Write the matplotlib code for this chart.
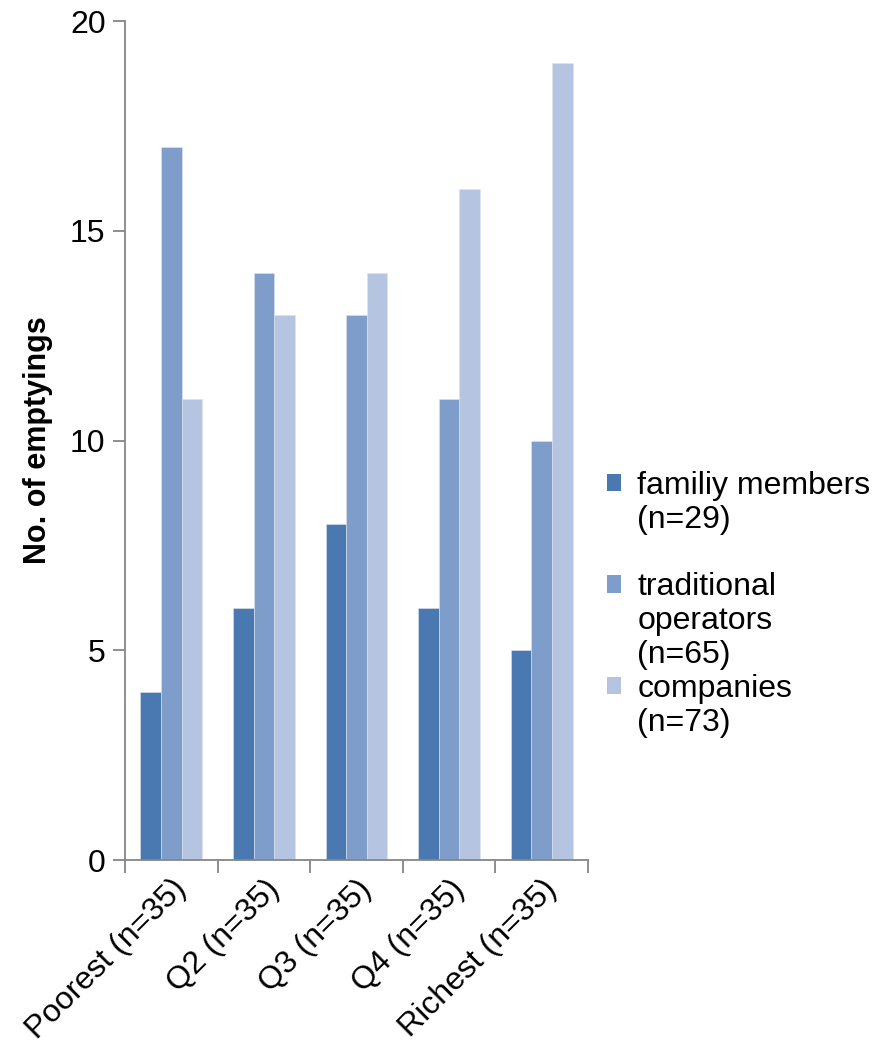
import numpy as np
import matplotlib.pyplot as plt
from matplotlib.patches import Patch

plt.rcParams['font.family'] = ['Liberation Sans', 'DejaVu Sans']

categories = ["Poorest (n=35)", "Q2 (n=35)", "Q3 (n=35)", "Q4 (n=35)", "Richest (n=35)"]
family = [4, 6, 8, 6, 5]
traditional = [17, 14, 13, 11, 10]
companies = [11, 13, 14, 16, 19]
series_labels = ["familiy members\n(n=29)", "traditional\noperators\n(n=65)", "companies\n(n=73)"]
colors = ["#4A78B0", "#7F9DCA", "#B5C4E0"]

fig = plt.figure(figsize=(8.84, 10.46), dpi=100)
ax = fig.add_axes([0.1414, 0.1778, 0.5238, 0.8021])

x = np.arange(len(categories))
w = 1 / 4.5
for i, vals in enumerate([family, traditional, companies]):
    ax.bar(x + (i - 1) * w, vals, width=w, color=colors[i], label=series_labels[i],
           edgecolor="#dde3ee", linewidth=0.4)

ax.set_xlim(-0.5, len(categories) - 0.5)
ax.set_ylim(0, 20)
ax.set_yticks([0, 5, 10, 15, 20])
ax.set_xticks(np.arange(-0.5, len(categories), 1.0), minor=False)
ax.set_xticklabels([])
ax.set_xticks(x, minor=True)
ax.set_xticklabels(categories, minor=True, rotation=45, ha='right',
                   rotation_mode='anchor', fontsize=23)
ax.tick_params(axis='x', which='minor', length=0, pad=10)
ax.tick_params(axis='x', which='major', length=9, width=1.3, color='#868686', direction='out')
ax.tick_params(axis='y', length=9, width=1.3, color='#868686', direction='out',
               labelsize=23, pad=5)

for s in ['top', 'right']:
    ax.spines[s].set_visible(False)
for s in ['left', 'bottom']:
    ax.spines[s].set_color('#868686')
    ax.spines[s].set_linewidth(1.3)

ax.set_ylabel("No. of emptyings", fontsize=22, fontweight='bold', labelpad=12)

# legend: one row per text line, colour square only on the first line (Excel style)
handles, labels = [], []
for k, (lab, col) in enumerate(zip(series_labels, colors)):
    for j, line in enumerate(lab.split("\n")):
        handles.append(Patch(facecolor=col if j == 0 else 'none', edgecolor='none'))
        labels.append(line)
    if k == 0:
        handles.append(Patch(facecolor='none', edgecolor='none'))
        labels.append(" ")

fig.legend(handles, labels, loc='upper left', bbox_to_anchor=(0.672, 0.562), frameon=False,
           fontsize=23, handlelength=0.45, handleheight=0.45, handletextpad=0.5,
           labelspacing=0.12, borderaxespad=0)

fig.savefig("out.png", dpi=100)
